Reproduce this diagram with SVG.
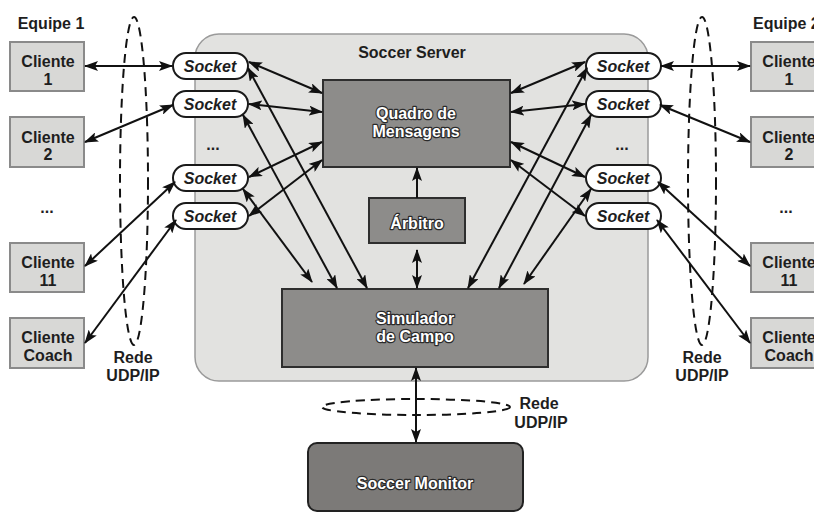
<svg xmlns="http://www.w3.org/2000/svg" width="814" height="513" viewBox="0 0 814 513">
<defs>
<style>
text{font-family:"Liberation Sans",Arial,sans-serif;font-weight:bold;font-size:16px;text-anchor:middle}
.dk{fill:#1e1e1e}
.it{font-style:italic}
.wt{fill:#fff;stroke:#2a2a2a;stroke-width:2.4px;paint-order:stroke;stroke-linejoin:round}
.cli{fill:#d8d8d6;stroke:#8a8a8a;stroke-width:2}
.box{fill:#8d8c8a;stroke:#2e2e2e;stroke-width:2}
.sock{fill:#fff;stroke:#1a1a1a;stroke-width:2}
.ln{stroke:#111;stroke-width:2;fill:none}
.bi{marker-start:url(#ah);marker-end:url(#ah)}
.one{marker-end:url(#ah)}
.dash{fill:none;stroke:#111;stroke-width:2;stroke-dasharray:9 6}
</style>
<marker id="ah" viewBox="0 0 14 10" refX="13" refY="5" markerWidth="14" markerHeight="10" markerUnits="userSpaceOnUse" orient="auto-start-reverse">
<path d="M0,0 L14,5 L0,10 L3,5 Z" fill="#111"/>
</marker>
</defs>
<rect width="814" height="513" fill="#fff"/>

<g id="server">
<rect x="195" y="34" width="453" height="347" rx="24" fill="#e2e2e0" stroke="#9a9a9a" stroke-width="1.5"/>
<text class="dk" x="412" y="58">Soccer Server</text>
<text class="dk" x="213" y="150">...</text>
<text class="dk" x="622" y="150">...</text>
</g>

<g id="networks">
<ellipse class="dash" cx="134" cy="181" rx="14" ry="164"/>
<ellipse class="dash" cx="702" cy="181" rx="14" ry="164"/>
<ellipse class="dash" cx="416" cy="407" rx="94" ry="8"/>
<text class="dk" x="133" y="363">Rede</text>
<text class="dk" x="133" y="381">UDP/IP</text>
<text class="dk" x="702" y="363">Rede</text>
<text class="dk" x="702" y="381">UDP/IP</text>
<text class="dk" x="539" y="409">Rede</text>
<text class="dk" x="541" y="428">UDP/IP</text>
</g>

<g id="equipe1">
<text class="dk" x="51" y="29">Equipe 1</text>
<text class="dk" x="47" y="213">...</text>
</g>
<g id="equipe2">
<text class="dk" x="753" y="29" style="text-anchor:start">Equipe 2</text>
<text class="dk" x="786" y="213">...</text>
</g>

<g id="cliente1-l"><rect class="cli" x="10" y="42" width="74" height="49"/><text class="dk" x="48" y="67">Cliente</text><text class="dk" x="48" y="85">1</text></g>
<g id="cliente2-l"><rect class="cli" x="10" y="117" width="74" height="50"/><text class="dk" x="48" y="143">Cliente</text><text class="dk" x="48" y="160">2</text></g>
<g id="cliente11-l"><rect class="cli" x="10" y="243" width="74" height="49"/><text class="dk" x="48" y="268">Cliente</text><text class="dk" x="48" y="286">11</text></g>
<g id="coach-l"><rect class="cli" x="10" y="318" width="74" height="50"/><text class="dk" x="48" y="343">Cliente</text><text class="dk" x="48" y="361">Coach</text></g>

<g id="cliente1-r"><rect class="cli" x="751" y="42" width="74" height="49"/><text class="dk" x="789" y="67">Cliente</text><text class="dk" x="789" y="85">1</text></g>
<g id="cliente2-r"><rect class="cli" x="751" y="117" width="74" height="50"/><text class="dk" x="789" y="143">Cliente</text><text class="dk" x="789" y="160">2</text></g>
<g id="cliente11-r"><rect class="cli" x="751" y="243" width="74" height="49"/><text class="dk" x="789" y="268">Cliente</text><text class="dk" x="789" y="286">11</text></g>
<g id="coach-r"><rect class="cli" x="751" y="318" width="74" height="50"/><text class="dk" x="789" y="343">Cliente</text><text class="dk" x="789" y="361">Coach</text></g>

<g id="socket1-l"><rect class="sock" x="173" y="53" width="75" height="26" rx="13"/><text class="dk it" x="210" y="72">Socket</text></g>
<g id="socket2-l"><rect class="sock" x="173" y="91" width="75" height="26" rx="13"/><text class="dk it" x="210" y="110">Socket</text></g>
<g id="socket3-l"><rect class="sock" x="173" y="165" width="75" height="26" rx="13"/><text class="dk it" x="210" y="184">Socket</text></g>
<g id="socket4-l"><rect class="sock" x="173" y="203" width="75" height="26" rx="13"/><text class="dk it" x="210" y="222">Socket</text></g>

<g id="socket1-r"><rect class="sock" x="586" y="53" width="75" height="26" rx="13"/><text class="dk it" x="623" y="72">Socket</text></g>
<g id="socket2-r"><rect class="sock" x="586" y="91" width="75" height="26" rx="13"/><text class="dk it" x="623" y="110">Socket</text></g>
<g id="socket3-r"><rect class="sock" x="586" y="165" width="75" height="26" rx="13"/><text class="dk it" x="623" y="184">Socket</text></g>
<g id="socket4-r"><rect class="sock" x="586" y="203" width="75" height="26" rx="13"/><text class="dk it" x="623" y="222">Socket</text></g>

<g id="quadro"><rect class="box" x="323" y="80" width="187" height="87"/><text class="wt" x="416" y="119">Quadro de</text><text class="wt" x="416" y="137">Mensagens</text></g>
<g id="arbitro"><rect class="box" x="369" y="198" width="96" height="45"/><text class="wt" x="417" y="229">Árbitro</text></g>
<g id="simulador"><rect class="box" x="282" y="289" width="266" height="78"/><text class="wt" x="415" y="324">Simulador</text><text class="wt" x="415" y="342">de Campo</text></g>
<g id="monitor"><rect x="308" y="443" width="215" height="68" rx="9" fill="#7c7a78" stroke="#222" stroke-width="2"/><text class="wt" x="415" y="489">Soccer Monitor</text></g>

<g id="connectors">
<line class="ln bi" x1="85" y1="66" x2="172" y2="66"/>
<line class="ln bi" x1="85" y1="142" x2="173" y2="105"/>
<line class="ln bi" x1="85" y1="266" x2="175" y2="182"/>
<line class="ln bi" x1="85" y1="343" x2="176" y2="220"/>
<line class="ln bi" x1="249" y1="62" x2="322" y2="93"/>
<line class="ln bi" x1="249" y1="104" x2="322" y2="112"/>
<line class="ln bi" x1="249" y1="177" x2="322" y2="142"/>
<line class="ln bi" x1="249" y1="216" x2="322" y2="160"/>
<line class="ln bi" x1="248" y1="68" x2="367" y2="288"/>
<line class="ln bi" x1="243" y1="115" x2="337" y2="288"/>
<line class="ln bi" x1="243" y1="189" x2="312" y2="282"/>

<line class="ln bi" x1="661" y1="66" x2="750" y2="66"/>
<line class="ln bi" x1="660" y1="105" x2="750" y2="142"/>
<line class="ln bi" x1="658" y1="182" x2="750" y2="266"/>
<line class="ln bi" x1="657" y1="220" x2="750" y2="343"/>
<line class="ln bi" x1="511" y1="93" x2="585" y2="62"/>
<line class="ln bi" x1="511" y1="112" x2="585" y2="104"/>
<line class="ln bi" x1="511" y1="142" x2="585" y2="177"/>
<line class="ln bi" x1="511" y1="160" x2="585" y2="216"/>
<line class="ln bi" x1="468" y1="288" x2="587" y2="68"/>
<line class="ln bi" x1="499" y1="288" x2="591" y2="115"/>
<line class="ln bi" x1="524" y1="284" x2="591" y2="189"/>

<line class="ln one" x1="417" y1="198" x2="417" y2="168"/>
<line class="ln bi" x1="417" y1="250" x2="417" y2="288"/>
<line class="ln bi" x1="416" y1="368" x2="416" y2="442"/>
</g>
</svg>
